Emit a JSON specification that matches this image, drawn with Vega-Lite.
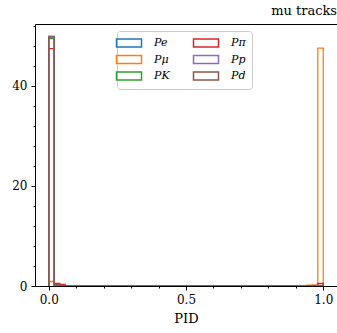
{
  "$schema": "https://vega.github.io/schema/vega-lite/v6.json",
  "width": 302,
  "height": 262,
  "autosize": {"type": "none"},
  "padding": {"left": 35, "top": 24, "right": 0, "bottom": 47},
  "background": "white",
  "title": {"text": "mu tracks", "anchor": "end", "font": "DejaVu Serif", "fontSize": 13, "fontWeight": "normal", "color": "black", "offset": 6},
  "config": {
    "view": {"stroke": "black", "strokeWidth": 1},
    "axis": {"domainColor": "black", "tickColor": "black", "labelColor": "black", "titleColor": "black", "labelFont": "DejaVu Serif", "titleFont": "DejaVu Serif", "labelFontSize": 12, "titleFontSize": 13, "titleFontWeight": "normal", "grid": false}
  },
  "data": {"values": [
    {"particle": "Pe", "pid": 0, "density": 0},
    {"particle": "Pe", "pid": 0, "density": 49.8},
    {"particle": "Pe", "pid": 0.02, "density": 0.1},
    {"particle": "Pe", "pid": 0.04, "density": 0},
    {"particle": "Pe", "pid": 1.0, "density": 0},
    {"particle": "Pμ", "pid": 0, "density": 0},
    {"particle": "Pμ", "pid": 0, "density": 0.9},
    {"particle": "Pμ", "pid": 0.02, "density": 0.04},
    {"particle": "Pμ", "pid": 0.94, "density": 0.15},
    {"particle": "Pμ", "pid": 0.98, "density": 47.5},
    {"particle": "Pμ", "pid": 1.0, "density": 0},
    {"particle": "PK", "pid": 0, "density": 0},
    {"particle": "PK", "pid": 0, "density": 49.4},
    {"particle": "PK", "pid": 0.02, "density": 0.3},
    {"particle": "PK", "pid": 0.04, "density": 0.05},
    {"particle": "PK", "pid": 0.06, "density": 0},
    {"particle": "PK", "pid": 1.0, "density": 0},
    {"particle": "Pπ", "pid": 0, "density": 0},
    {"particle": "Pπ", "pid": 0, "density": 47.4},
    {"particle": "Pπ", "pid": 0.02, "density": 0.5},
    {"particle": "Pπ", "pid": 0.04, "density": 0.3},
    {"particle": "Pπ", "pid": 0.06, "density": 0.02},
    {"particle": "Pπ", "pid": 0.96, "density": 0.1},
    {"particle": "Pπ", "pid": 0.98, "density": 0.5},
    {"particle": "Pπ", "pid": 1.0, "density": 0},
    {"particle": "Pp", "pid": 0, "density": 0},
    {"particle": "Pp", "pid": 0, "density": 49.8},
    {"particle": "Pp", "pid": 0.02, "density": 0.1},
    {"particle": "Pp", "pid": 0.04, "density": 0},
    {"particle": "Pp", "pid": 1.0, "density": 0},
    {"particle": "Pd", "pid": 0, "density": 0},
    {"particle": "Pd", "pid": 0, "density": 49.7},
    {"particle": "Pd", "pid": 0.02, "density": 0.2},
    {"particle": "Pd", "pid": 0.04, "density": 0.05},
    {"particle": "Pd", "pid": 0.06, "density": 0},
    {"particle": "Pd", "pid": 1.0, "density": 0}
  ]},
  "layer": [
    {
      "mark": {"type": "line", "interpolate": "step-after", "strokeWidth": 1.3, "clip": true},
      "encoding": {
        "x": {"field": "pid", "type": "quantitative", "scale": {"domain": [-0.05, 1.05], "nice": false, "zero": false},
              "axis": {"values": [0, 0.5, 1], "format": ".1f", "title": "PID", "tickSize": 4, "labelPadding": 4, "titlePadding": 7}},
        "y": {"field": "density", "type": "quantitative", "scale": {"domain": [0, 52.3], "nice": false},
              "axis": {"values": [0, 20, 40], "title": null, "tickSize": 4, "labelPadding": 4}},
        "color": {"field": "particle", "type": "nominal",
          "scale": {"domain": ["Pe", "Pμ", "PK", "Pπ", "Pp", "Pd"], "range": ["#1f77b4", "#ff7f0e", "#2ca02c", "#d62728", "#9467bd", "#8c564b"]},
          "legend": {"title": null, "orient": "none", "legendX": 82, "legendY": 7, "columns": 2, "columnPadding": 20, "rowPadding": 2.5,
            "symbolType": "M-2.5,-0.8H2.5V0.8H-2.5Z", "symbolSize": 100, "symbolStrokeWidth": 1.5,
            "labelFont": "DejaVu Serif", "labelFontStyle": "italic", "labelFontSize": 11, "labelColor": "black", "labelOffset": 19,
            "strokeColor": "#cccccc", "fillColor": "white", "cornerRadius": 3, "padding": 6,
            "encode": {"symbols": {"update": {"fill": {"value": "transparent"}}}}}}
      }
    },
    {
      "mark": {"type": "rule", "opacity": 0},
      "encoding": {
        "x": {"field": "pid", "type": "quantitative", "axis": {"orient": "bottom", "values": [0.1, 0.2, 0.3, 0.4, 0.6, 0.7, 0.8, 0.9], "labels": false, "tickSize": 2, "domain": false, "title": null}},
        "y": {"field": "density", "type": "quantitative", "axis": {"orient": "left", "values": [4, 8, 12, 16, 24, 28, 32, 36, 44, 48, 52], "labels": false, "tickSize": 2, "domain": false, "title": null}}
      }
    }
  ],
  "resolve": {"axis": {"x": "independent", "y": "independent"}}
}
